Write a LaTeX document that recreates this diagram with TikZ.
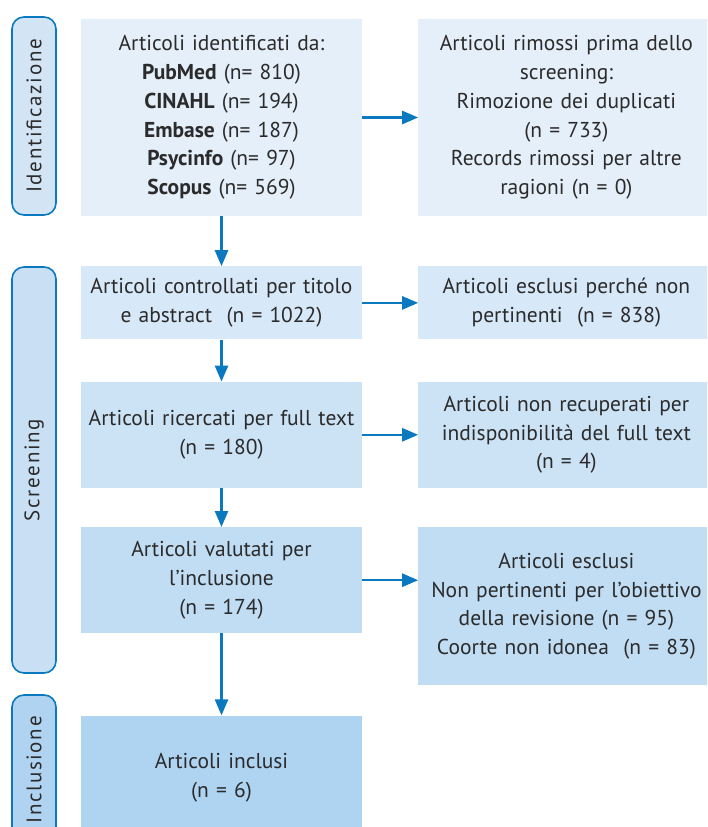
\documentclass[tikz,border=0pt]{standalone}
\usepackage{fontspec}
\setmainfont{PT Sans}
\newfontfamily\phasefont[LetterSpace=8]{PT Sans}
\usepackage{tikz}
\usetikzlibrary{positioning, arrows.meta}
\definecolor{prismablue}{HTML}{0B79BF}
\definecolor{textgray}{HTML}{2B2B2B}
\definecolor{fillA}{HTML}{E4EFFA}
\definecolor{fillB}{HTML}{D7E8F8}
\definecolor{fillC}{HTML}{CCE3F6}
\definecolor{fillD}{HTML}{C0DDF4}
\definecolor{fillE}{HTML}{AFD4F2}
\definecolor{pillA}{HTML}{D3E4F4}
\definecolor{pillB}{HTML}{C8DFF4}
\definecolor{pillC}{HTML}{AFD3F1}
\tikzstyle{leftbox} = [rectangle, minimum width=281pt, text width=276pt, align=center, inner sep=0pt, text=textgray, font=\fontsize{21.5}{28.8}\selectfont]
\tikzstyle{rightbox} = [rectangle, minimum width=296pt, text width=292pt, align=center, inner sep=0pt, text=textgray, font=\fontsize{21.5}{28.8}\selectfont]
\tikzstyle{phase} = [rectangle, rounded corners=12pt, minimum height=44pt, draw=prismablue, line width=1.6pt, rotate=90, text=textgray, font=\phasefont\fontsize{21}{24}\selectfont]
\tikzstyle{arrow} = [line width=2.5pt, draw=prismablue, -{Triangle[length=16pt,width=13pt]}]

\begin{document}
\begin{tikzpicture}[x=1pt, y=1pt]
	\useasboundingbox (0,0) rectangle (707,-827);
	\clip (0,0) rectangle (707,-827);

	\node (ident) [leftbox, fill=fillA, minimum height=197pt] at (221.5,-117.5) {Articoli identificati da:\\ \textbf{PubMed} (n= 810)\\ \textbf{CINAHL} (n= 194)\\ \textbf{Embase} (n= 187)\\ \textbf{Psycinfo} (n= 97)\\ \textbf{Scopus} (n= 569)};
	\node (removed) [rightbox, fill=fillA, minimum height=197pt, right=56pt of ident] {Articoli rimossi prima dello\\ screening:\\ Rimozione dei duplicati\\ (n = 733)\\ Records rimossi per altre\\ ragioni (n = 0)};
	\node (screen) [leftbox, fill=fillB, minimum height=73pt, below=50pt of ident] {Articoli controllati per titolo\\ e abstract \ (n = 1022)};
	\node (excl1) [rightbox, fill=fillB, minimum height=73pt, right=56pt of screen] {Articoli esclusi perché non\\ pertinenti \ (n = 838)};
	\node (sought) [leftbox, fill=fillC, minimum height=106pt, below=42pt of screen] {Articoli ricercati per full text\\ (n = 180)};
	\node (notret) [rightbox, fill=fillC, minimum height=106pt, right=56pt of sought] {Articoli non recuperati per\\ indisponibilità del full text\\ (n = 4)};
	\node (assess) [leftbox, fill=fillD, minimum height=106pt, below=39pt of sought] {Articoli valutati per\\ l’inclusione\\ (n = 174)};
	\node (excl2) [rightbox, fill=fillD, minimum height=158pt, right=56pt of assess, yshift=-26pt] {Articoli esclusi\\ Non pertinenti per l’obiettivo\\ della revisione (n = 95)\\ Coorte non idonea \ (n = 83)};
	\node (incl) [leftbox, fill=fillE, minimum height=124pt, below=82pt of assess] {Articoli inclusi\\ (n = 6)};

	\node (idphase) [phase, fill=pillA, minimum width=198pt] at (34,-116) {Identificazione};
	\node (scrphase) [phase, fill=pillB, minimum width=406pt] at (34,-470) {Screening};
	\node (incphase) [phase, fill=pillC, minimum width=150pt] at (34,-770) {Inclusione};

	\draw [arrow] (ident) -- (removed);
	\draw [arrow] (ident) -- (screen);
	\draw [arrow] (screen) -- (excl1);
	\draw [arrow] (screen) -- (sought);
	\draw [arrow] (sought) -- (notret);
	\draw [arrow] (sought) -- (assess);
	\draw [arrow] (assess.east) -- (assess.east -| excl2.west);
	\draw [arrow] (assess) -- (incl);
\end{tikzpicture}
\end{document}
